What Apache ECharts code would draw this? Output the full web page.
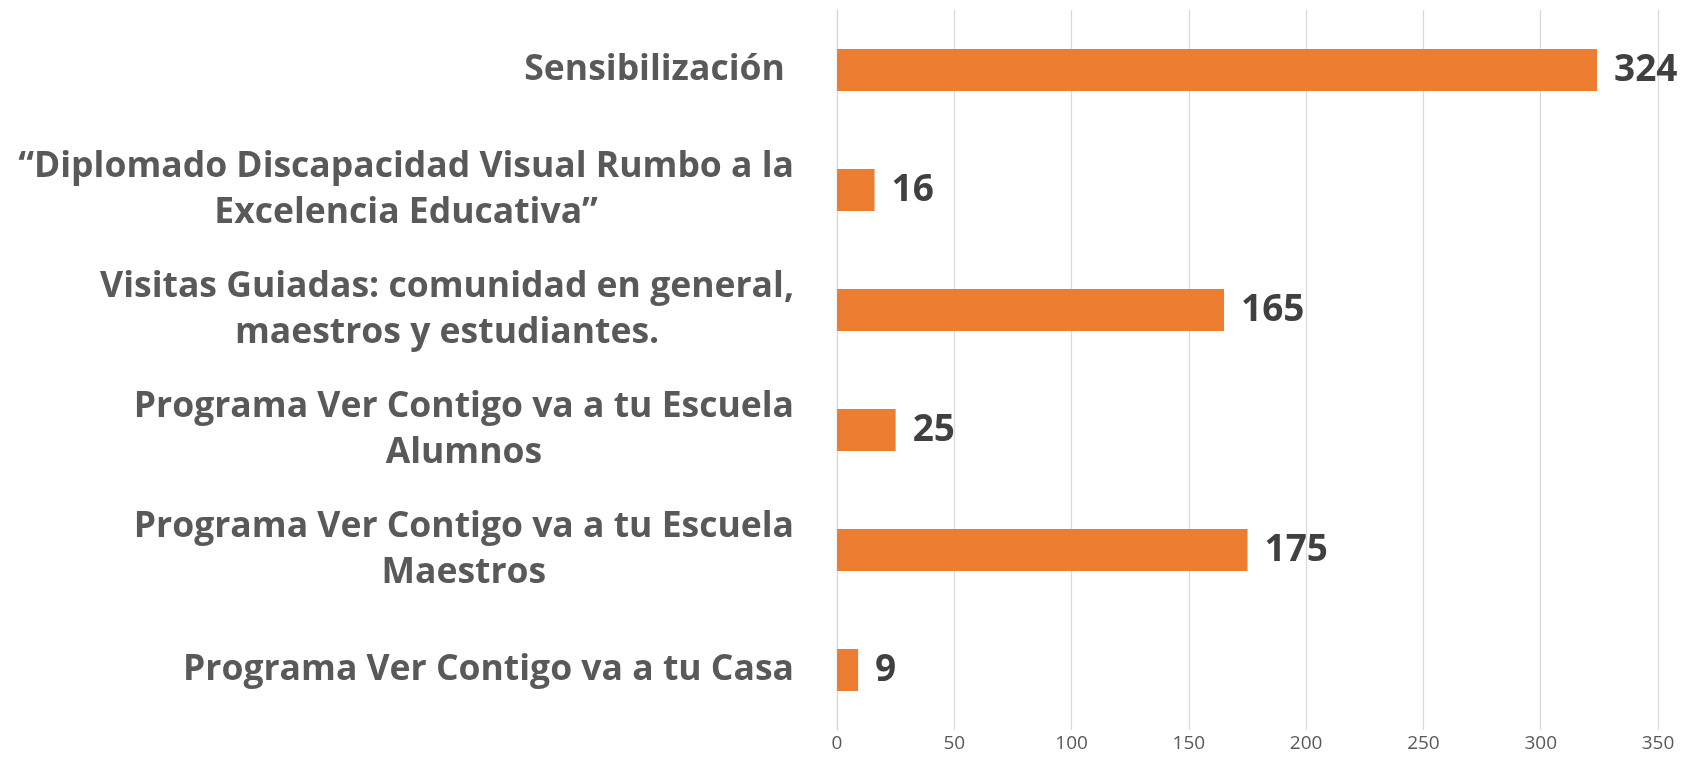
<!DOCTYPE html>
<html>
<head>
<meta charset="utf-8">
<script src="https://cdn.jsdelivr.net/npm/echarts@6/dist/echarts.min.js"></script>
<style>
  html, body { margin: 0; padding: 0; background: #fff; }
  #chart { width: 1683px; height: 772px; }
</style>
</head>
<body>
<div id="chart"></div>
<script>
// categories top to bottom
let categories = [
    'Sensibilización ',
    '“Diplomado Discapacidad Visual Rumbo a la\nExcelencia Educativa”',
    'Visitas Guiadas: comunidad en general,\nmaestros y estudiantes.',
    'Programa Ver Contigo va a tu Escuela\nAlumnos',
    'Programa Ver Contigo va a tu Escuela\nMaestros',
    'Programa Ver Contigo va a tu Casa'
];
let values = [324, 16, 165, 25, 175, 9];
let xTicks = [0, 50, 100, 150, 200, 250, 300, 350];

let font = '"Open Sans", sans-serif';
let chart = echarts.init(document.getElementById('chart'));

let option = {
    animation: false,
    grid: {
        left: 837,
        right: 25,
        top: 10,
        bottom: 42
    },
    xAxis: {
        type: 'value',
        min: xTicks[0],
        max: xTicks[xTicks.length - 1],
        interval: xTicks[1] - xTicks[0],
        axisLine: { show: false },
        axisTick: { show: false },
        axisLabel: {
            color: '#595959',
            fontSize: 19,
            fontFamily: font,
            margin: 4
        },
        splitLine: {
            lineStyle: { color: '#d9d9d9', width: 1.3 }
        }
    },
    yAxis: {
        type: 'category',
        inverse: true,
        data: categories,
        axisLine: { lineStyle: { color: '#d9d9d9', width: 1.3 } },
        axisTick: { show: false },
        axisLabel: {
            margin: 43,
            formatter: function (v) {
                return v.split('\n').map(s => '{c|' + s + '}').join('\n');
            },
            rich: {
                c: {
                    align: 'center',
                    color: '#595959',
                    fontSize: 35.5,
                    fontWeight: 'bold',
                    fontFamily: font,
                    lineHeight: 46
                }
            }
        }
    },
    series: [{
        type: 'bar',
        data: values,
        barWidth: '35%',
        itemStyle: { color: '#ed7d31' },
        label: {
            show: true,
            position: 'right',
            distance: 17,
            color: '#404040',
            fontSize: 37,
            fontWeight: 'bold',
            fontFamily: font
        }
    }]
};

chart.setOption(option);
</script>
</body>
</html>
